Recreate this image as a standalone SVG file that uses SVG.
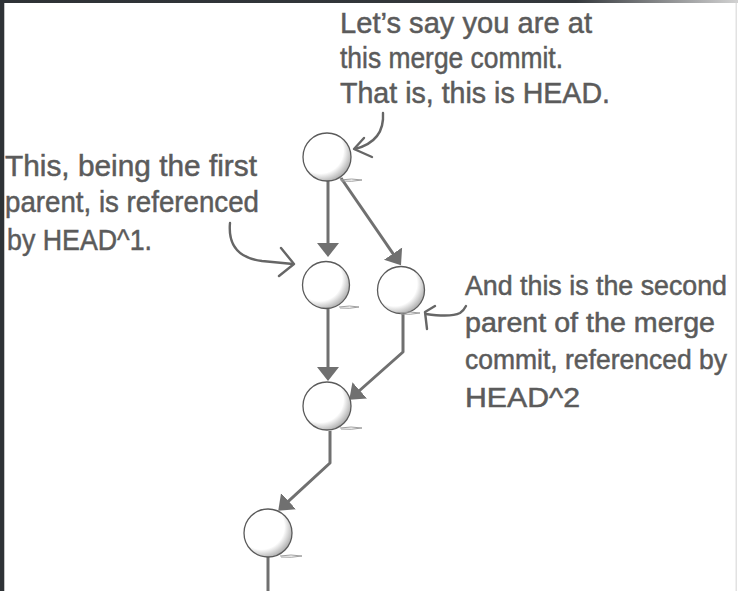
<svg xmlns="http://www.w3.org/2000/svg" width="738" height="591" viewBox="0 0 738 591">
  <style>
    .txt { font-family: "Liberation Sans", Arial, sans-serif; font-size: 30px; fill: #5b5b5b; stroke: #5b5b5b; stroke-width: 0.5; }
    .txt-r { font-size: 27px; }
    .edge { stroke: #707070; stroke-width: 3; fill: none; stroke-linejoin: round; }
    .note { stroke: #666666; stroke-width: 2.4; fill: none; stroke-linecap: round; stroke-linejoin: round; }
    .node circle { fill: url(#shade); stroke: #5a5a5a; stroke-width: 1.3; }
    .ground { fill: none; stroke: #a0a0a0; stroke-width: 1; }
  </style>
  <defs>
    <radialGradient id="shade" cx="0.38" cy="0.38" r="0.66" fx="0.33" fy="0.33">
      <stop offset="0" stop-color="#ffffff"/>
      <stop offset="0.72" stop-color="#ffffff"/>
      <stop offset="1" stop-color="#adadad"/>
    </radialGradient>
    <linearGradient id="topbar" x1="0" y1="0" x2="1" y2="0">
      <stop offset="0" stop-color="#2e3236"/>
      <stop offset="0.78" stop-color="#34383c"/>
      <stop offset="1" stop-color="#d2d2d2"/>
    </linearGradient>
    <marker id="ah" markerUnits="userSpaceOnUse" markerWidth="15" markerHeight="24" viewBox="0 0 15 24" refX="7" refY="12" orient="auto">
      <path d="M0,1 L14,12 L0,23 Z" fill="#707070"/>
    </marker>
  </defs>

  <rect x="0" y="0" width="738" height="591" fill="#ffffff"/>
  <rect x="0" y="0" width="738" height="3" fill="url(#topbar)"/>
  <rect x="0" y="0" width="4" height="591" fill="#2e3236"/>
  <rect x="4" y="3" width="1" height="588" fill="#c4c4c4"/>
  <rect x="735.5" y="3" width="1.5" height="588" fill="#e2e2e2"/>

  <g id="connectors">
    <path class="edge" d="M328,181 L328,250" marker-end="url(#ah)"/>
    <path class="edge" d="M341,178 L397,259.4" marker-end="url(#ah)"/>
    <path class="edge" d="M328,309 L328,374" marker-end="url(#ah)"/>
    <path class="edge" d="M403,314 L403,352 L354.5,395" marker-end="url(#ah)"/>
    <path class="edge" d="M330,431 L330,463 L283.4,505.9" marker-end="url(#ah)"/>
    <path class="edge" d="M268,557 L268,591"/>
  </g>

  <g id="node-head" class="node">
    <circle cx="327" cy="157" r="24"/>
    <path class="ground" d="M340,180 Q352,178 362,180 Q352,182 341,181"/>
  </g>
  <g id="node-parent1" class="node">
    <circle cx="326" cy="285" r="23.5"/>
    <path class="ground" d="M339,307 Q350,305 359,307 Q350,309 340,308"/>
  </g>
  <g id="node-parent2" class="node">
    <circle cx="401" cy="290" r="23.5"/>
    <path class="ground" d="M400,313 Q410,311 420,313 Q410,315 401,314"/>
  </g>
  <g id="node-grandparent" class="node">
    <circle cx="327" cy="406" r="24"/>
    <path class="ground" d="M340,428 Q351,426 362,428 Q351,430 341,429"/>
  </g>
  <g id="node-ancestor" class="node">
    <circle cx="268" cy="533" r="24"/>
    <path class="ground" d="M280,556 Q291,554 302,556 Q291,558 281,557"/>
  </g>

  <g id="note-head">
    <text class="txt" x="340" y="33" textLength="252" lengthAdjust="spacingAndGlyphs">Let’s say you are at</text>
    <text class="txt" x="340" y="68" textLength="223" lengthAdjust="spacingAndGlyphs">this merge commit.</text>
    <text class="txt" x="340" y="103" textLength="270" lengthAdjust="spacingAndGlyphs">That is, this is HEAD.</text>
    <path class="note" d="M383,113 C384,128 378,143 355,149"/>
    <path class="note" d="M364,138 L354,149 L372,157"/>
  </g>

  <g id="note-first-parent">
    <text class="txt" x="5" y="176" textLength="252" lengthAdjust="spacingAndGlyphs">This, being the first</text>
    <text class="txt" x="5" y="212" textLength="254" lengthAdjust="spacingAndGlyphs">parent, is referenced</text>
    <text class="txt" x="7" y="250" textLength="145" lengthAdjust="spacingAndGlyphs">by HEAD^1.</text>
    <path class="note" d="M230,223 C228,245 238,258 262,261 L293,264"/>
    <path class="note" d="M281,248 L294,264 L279,276"/>
  </g>

  <g id="note-second-parent">
    <text class="txt txt-r" x="465" y="295" textLength="262" lengthAdjust="spacingAndGlyphs">And this is the second</text>
    <text class="txt txt-r" x="465" y="332" textLength="250" lengthAdjust="spacingAndGlyphs">parent of the merge</text>
    <text class="txt txt-r" x="465" y="369" textLength="262" lengthAdjust="spacingAndGlyphs">commit, referenced by</text>
    <text class="txt txt-r" x="465" y="407" textLength="115" lengthAdjust="spacingAndGlyphs">HEAD^2</text>
    <path class="note" d="M426,314 C440,316 452,317 460,313 C463,311 465,308 466,306"/>
    <path class="note" d="M435,306 L425,312 L427,329"/>
  </g>
</svg>
